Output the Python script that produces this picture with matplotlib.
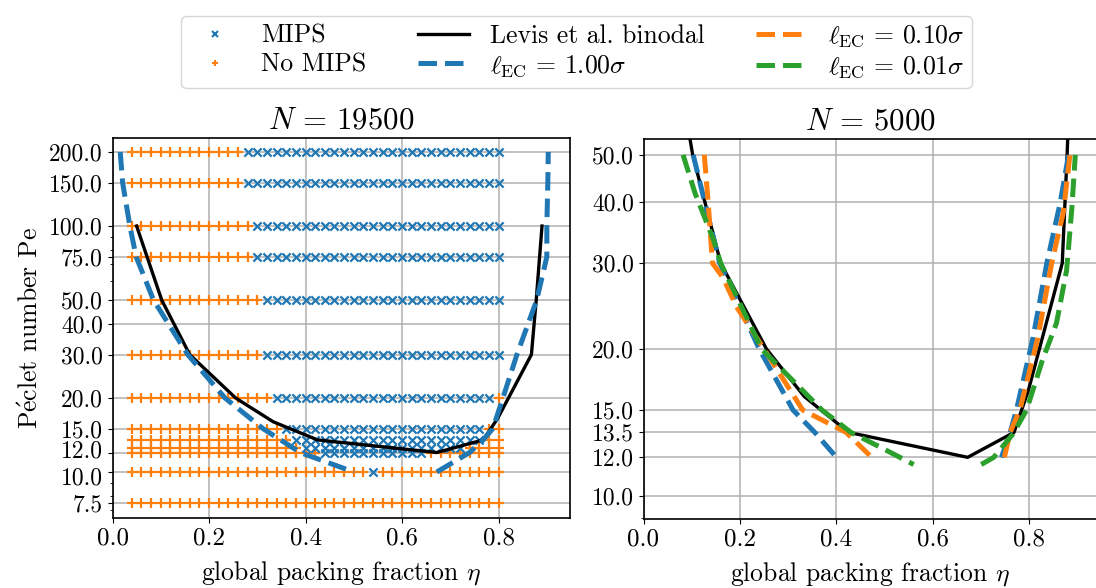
import matplotlib
matplotlib.use("Agg")
import matplotlib.pyplot as plt
import matplotlib.transforms as mtransforms
import numpy as np
from matplotlib.ticker import FixedLocator, FormatStrFormatter, NullFormatter
from matplotlib.lines import Line2D

plt.rcParams['font.family'] = ['cmr10', 'DejaVu Serif']
plt.rcParams['mathtext.fontset'] = 'cm'
plt.rcParams['axes.unicode_minus'] = False
plt.rcParams['axes.formatter.use_mathtext'] = True
plt.rcParams['font.size'] = 18.5
plt.rcParams['ytick.labelsize'] = 17
plt.rcParams['xtick.labelsize'] = 18

# ---------------- data ----------------
eta_grid = [round(0.04 + 0.02 * k, 2) for k in range(39)]  # 0.04 .. 0.80
pe_rows = [7.5, 10, 12, 12.5, 13.5, 15, 20, 30, 50, 75, 100, 150, 200]
# MIPS intervals (inclusive) per Pe row; list of (lo, hi)
mips_ranges = {
    7.5: [],
    10: [(0.54, 0.54)],
    12: [(0.44, 0.64)],
    12.5: [(0.40, 0.72)],
    13.5: [(0.38, 0.76)],
    15: [(0.36, 0.76)],
    20: [(0.34, 0.78)],
    30: [(0.32, 0.80)],
    50: [(0.32, 0.80)],
    75: [(0.30, 0.80)],
    100: [(0.30, 0.80)],
    150: [(0.28, 0.80)],
    200: [(0.28, 0.80)],
}

levis_eta = [0.05, 0.102, 0.16, 0.255, 0.333, 0.425, 0.672, 0.768, 0.798, 0.868, 0.878, 0.89]
levis_pe = [100, 50, 30, 20, 16, 13.5, 12, 13.5, 16.5, 30, 50, 100]

# N = 19500, l_EC = 1.00 sigma
b19_left_eta = [0.016, 0.021, 0.036, 0.049, 0.085, 0.116, 0.156, 0.233, 0.312, 0.389, 0.50]
b19_left_pe = [200, 150, 100, 75, 50, 40, 30, 20, 15, 12, 10]
b19_right_eta = [0.672, 0.74, 0.768, 0.788, 0.809, 0.838, 0.879, 0.90, 0.90, 0.902, 0.903]
b19_right_pe = [10, 12, 13.5, 15, 20, 30, 50, 75, 100, 150, 200]

# N = 5000
b5_left_eta = [0.103, 0.127, 0.158, 0.24, 0.31, 0.355, 0.40]
b5_left_pe = [50, 40, 30, 20, 15, 13.5, 12]
b5_right_eta = [0.742, 0.76, 0.773, 0.807, 0.836, 0.864, 0.881]
b5_right_pe = [12, 13.5, 15, 21, 30, 40, 50]

o5_left_eta = [0.126, 0.134, 0.143, 0.165, 0.193, 0.25, 0.33, 0.42, 0.462, 0.473]
o5_left_pe = [50, 40, 30, 28, 24.4, 20, 15, 13.5, 12.3, 12]
o5_right_eta = [0.748, 0.76, 0.78, 0.817, 0.846, 0.87, 0.884]
o5_right_pe = [12, 13.5, 15, 21, 30, 38, 50]

g5_left_eta = [0.082, 0.107, 0.145, 0.16, 0.245, 0.37, 0.43, 0.49, 0.56]
g5_left_pe = [50, 41.7, 33.5, 30, 20, 15, 13.5, 12.6, 11.6]
g5_right_eta = [0.70, 0.726, 0.766, 0.794, 0.827, 0.856, 0.877, 0.888, 0.895]
g5_right_pe = [11.6, 12, 13.4, 15, 19, 22.6, 29, 39, 50]

left_yticks = [7.5, 10, 12, 15, 20, 30, 40, 50, 75, 100, 150, 200]
right_yticks = [10, 12, 13.5, 15, 20, 30, 40, 50]
xticks = [0.0, 0.2, 0.4, 0.6, 0.8]

C_BLUE = '#1f77b4'
C_ORANGE = '#ff7f0e'
C_GREEN = '#2ca02c'

# ---------------- figure ----------------
W, H = 1096, 588
fig = plt.figure(figsize=(W / 100, H / 100), dpi=100)


def px_axes(x0, y0, x1, y1):
    return fig.add_axes([x0 / W, 1 - y1 / H, (x1 - x0) / W, (y1 - y0) / H])


ax1 = px_axes(112.5, 138, 570, 518)
ax2 = px_axes(643.5, 139, 1097, 519)

# scatter points
mips_x, mips_y, no_x, no_y = [], [], [], []
for pe in pe_rows:
    for e in eta_grid:
        inside = any(lo - 1e-9 <= e <= hi + 1e-9 for lo, hi in mips_ranges[pe])
        if inside:
            mips_x.append(e); mips_y.append(pe)
        else:
            no_x.append(e); no_y.append(pe)

ax1.scatter(no_x, no_y, marker='+', s=45, linewidths=1.6, color=C_ORANGE, zorder=3)
ax1.scatter(mips_x, mips_y, marker='x', s=35, linewidths=1.6, color=C_BLUE, zorder=3)

lw_dash = 3.6
lw_solid = 2.4
for ax in (ax1, ax2):
    ax.plot(levis_eta, levis_pe, color='black', lw=lw_solid, zorder=4)

ax1.plot(b19_left_eta, b19_left_pe, color=C_BLUE, lw=lw_dash, ls='--', zorder=5)
ax1.plot(b19_right_eta, b19_right_pe, color=C_BLUE, lw=lw_dash, ls='--', zorder=5)

ax2.plot(b5_left_eta, b5_left_pe, color=C_BLUE, lw=lw_dash, ls='--', zorder=5)
ax2.plot(b5_right_eta, b5_right_pe, color=C_BLUE, lw=lw_dash, ls='--', zorder=5)
ax2.plot(o5_left_eta, o5_left_pe, color=C_ORANGE, lw=lw_dash, ls='--', zorder=5)
ax2.plot(o5_right_eta, o5_right_pe, color=C_ORANGE, lw=lw_dash, ls='--', zorder=5)
ax2.plot(g5_left_eta, g5_left_pe, color=C_GREEN, lw=lw_dash, ls='--', zorder=5)
ax2.plot(g5_right_eta, g5_right_pe, color=C_GREEN, lw=lw_dash, ls='--', zorder=5)

for ax, yt, ylim, xlim in ((ax1, left_yticks, (6.5, 228), (0, 0.948)),
                           (ax2, right_yticks, (8.97, 53.9), (0, 0.94))):
    ax.set_yscale('log')
    ax.set_ylim(*ylim)
    ax.set_xlim(*xlim)
    ax.yaxis.set_major_locator(FixedLocator(yt))
    ax.yaxis.set_major_formatter(FormatStrFormatter('%.1f'))
    ax.yaxis.set_minor_formatter(NullFormatter())
    ax.set_xticks(xticks)
    ax.xaxis.set_major_formatter(FormatStrFormatter('%.1f'))
    ax.grid(True, which='major', color='#b0b0b0', lw=1.1)
    ax.set_axisbelow(True)
    ax.set_xlabel(r'global packing fraction $\eta$', labelpad=7)
    for s in ax.spines.values():
        s.set_linewidth(1.2)

# nudge the two tightly packed labels apart slightly
for lab, val in zip(ax1.get_yticklabels(), left_yticks):
    if val == 12:
        lab.set_transform(lab.get_transform() + mtransforms.ScaledTranslation(0, 2.5 / 72, fig.dpi_scale_trans))
    elif val == 10:
        lab.set_transform(lab.get_transform() + mtransforms.ScaledTranslation(0, -2.5 / 72, fig.dpi_scale_trans))

ax1.set_ylabel(r'P$\mathrm{\acute{e}}$clet number Pe', labelpad=4)
ax1.set_title(r'$N\,=\,19500$', pad=7)
ax2.set_title(r'$N\,=\,5000$', pad=7)

handles = [
    Line2D([], [], ls='none', marker='x', color=C_BLUE, ms=4, mew=1.5),
    Line2D([], [], ls='none', marker='+', color=C_ORANGE, ms=5, mew=1.5),
    Line2D([], [], color='black', lw=lw_solid),
    Line2D([], [], color=C_BLUE, lw=lw_dash, ls='--'),
    Line2D([], [], color=C_ORANGE, lw=lw_dash, ls='--'),
    Line2D([], [], color=C_GREEN, lw=lw_dash, ls='--'),
]
labels = ['MIPS', 'No MIPS', 'Levis et al. binodal',
          r'$\ell_{\rm EC}\,=\,1.00\sigma$', r'$\ell_{\rm EC}\,=\,0.10\sigma$',
          r'$\ell_{\rm EC}\,=\,0.01\sigma$']
fig.legend(handles, labels, loc='upper center', bbox_to_anchor=(0.526, 0.995),
           ncol=3, frameon=True, columnspacing=2.0, handlelength=2.0,
           borderpad=0.3, labelspacing=0.2)

fig.savefig('out.png', dpi=100)
